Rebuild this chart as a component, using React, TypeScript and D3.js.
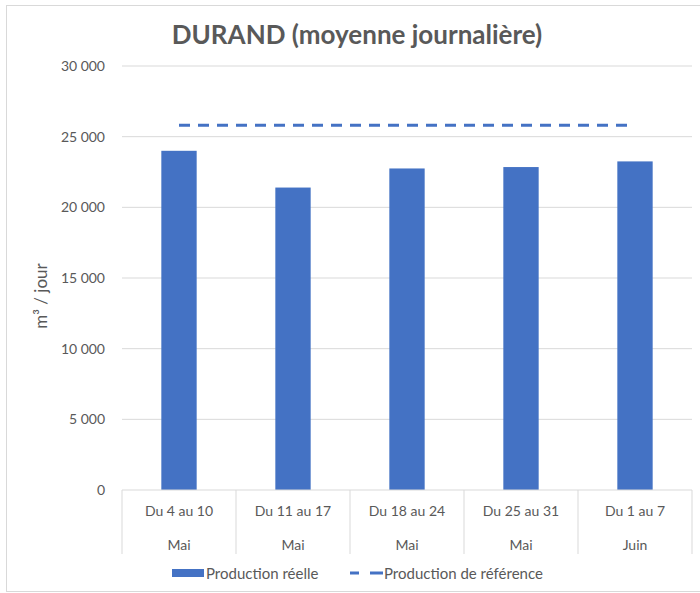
import React from 'react';
import * as d3 from 'd3';

// Weekly periods (two-level category axis)
const periods = ['Du 4 au 10', 'Du 11 au 17', 'Du 18 au 24', 'Du 25 au 31', 'Du 1 au 7'];
const months = ['Mai', 'Mai', 'Mai', 'Mai', 'Juin'];
const actual = [24000, 21400, 22750, 22850, 23250];
const reference = [25800, 25800, 25800, 25800, 25800];
const yTicks = [0, 5000, 10000, 15000, 20000, 25000, 30000];

const W = 700, H = 593;
const FONT = 'Lato, "Open Sans", sans-serif';
const BLUE = '#4472C4';
const TEXT = '#595959';
const GRID = '#D9D9D9';

const fmt = (v: number) => d3.format(',')(v).replace(/,/g, '\u202F');

const App = () => {
  const left = 122, right = 692, top = 66, bottom = 490;

  const x = d3.scaleBand<string>().domain(periods).range([left, right]).padding(0);
  const y = d3.scaleLinear().domain([0, 30000]).range([bottom, top]);
  const barW = x.bandwidth() * 0.31;
  const cx = (i: number) => (x(periods[i]) as number) + x.bandwidth() / 2;

  const refLine = d3.line<number>()
    .x((_, i) => cx(i))
    .y(d => y(d));

  const boundaries = [...periods.map(p => x(p) as number), right];

  return (
    <svg width={W} height={H} style={{ position: 'absolute', left: 0, top: 0 }}>
      <rect x={6.5} y={5.5} width={700} height={586} fill="#fff" stroke="#D9D9D9" />
      <text x={357} y={44} textAnchor="middle" fontFamily={FONT} fontWeight="bold" fontSize={26} fill={TEXT}>
        DURAND (moyenne journalière)
      </text>

      {/* gridlines and y labels */}
      {yTicks.map(t => (
        <g key={t}>
          {t > 0 && <line x1={left} x2={right} y1={y(t)} y2={y(t)} stroke={GRID} strokeWidth={1} />}
          <text x={105} y={y(t)} dy="0.35em" textAnchor="end" fontFamily={FONT} fontSize={14} fill={TEXT}>
            {fmt(t)}
          </text>
        </g>
      ))}

      <text transform="translate(47,296) rotate(-90)" textAnchor="middle"
        fontFamily={FONT} fontSize={17} fill={TEXT}>
        m³ / jour
      </text>

      {/* bars */}
      {actual.map((v, i) => (
        <rect key={i} x={cx(i) - barW / 2} y={y(v)} width={barW} height={y(0) - y(v)} fill={BLUE} />
      ))}

      {/* reference line */}
      <path d={refLine(reference) || ''} fill="none" stroke={BLUE} strokeWidth={3} strokeDasharray="11,8" />

      {/* x axis */}
      <line x1={left} x2={right} y1={bottom} y2={bottom} stroke={GRID} />
      {boundaries.map((b, i) => (
        <line key={i} x1={b} x2={b} y1={bottom} y2={554} stroke={GRID} />
      ))}
      {periods.map((p, i) => (
        <g key={p}>
          <text x={cx(i)} y={516} textAnchor="middle" fontFamily={FONT} fontSize={14} fill={TEXT}>{p}</text>
          <text x={cx(i)} y={550} textAnchor="middle" fontFamily={FONT} fontSize={14} fill={TEXT}>{months[i]}</text>
        </g>
      ))}

      {/* legend */}
      <rect x={172} y={569} width={32} height={8} fill={BLUE} />
      <text x={206} y={579} fontFamily={FONT} fontSize={15} fill={TEXT}>Production réelle</text>
      <line x1={350} x2={383} y1={573} y2={573} stroke={BLUE} strokeWidth={3} strokeDasharray="9,11,13" />
      <text x={384} y={579} fontFamily={FONT} fontSize={15} fill={TEXT}>Production de référence</text>
    </svg>
  );
};

export default App;
